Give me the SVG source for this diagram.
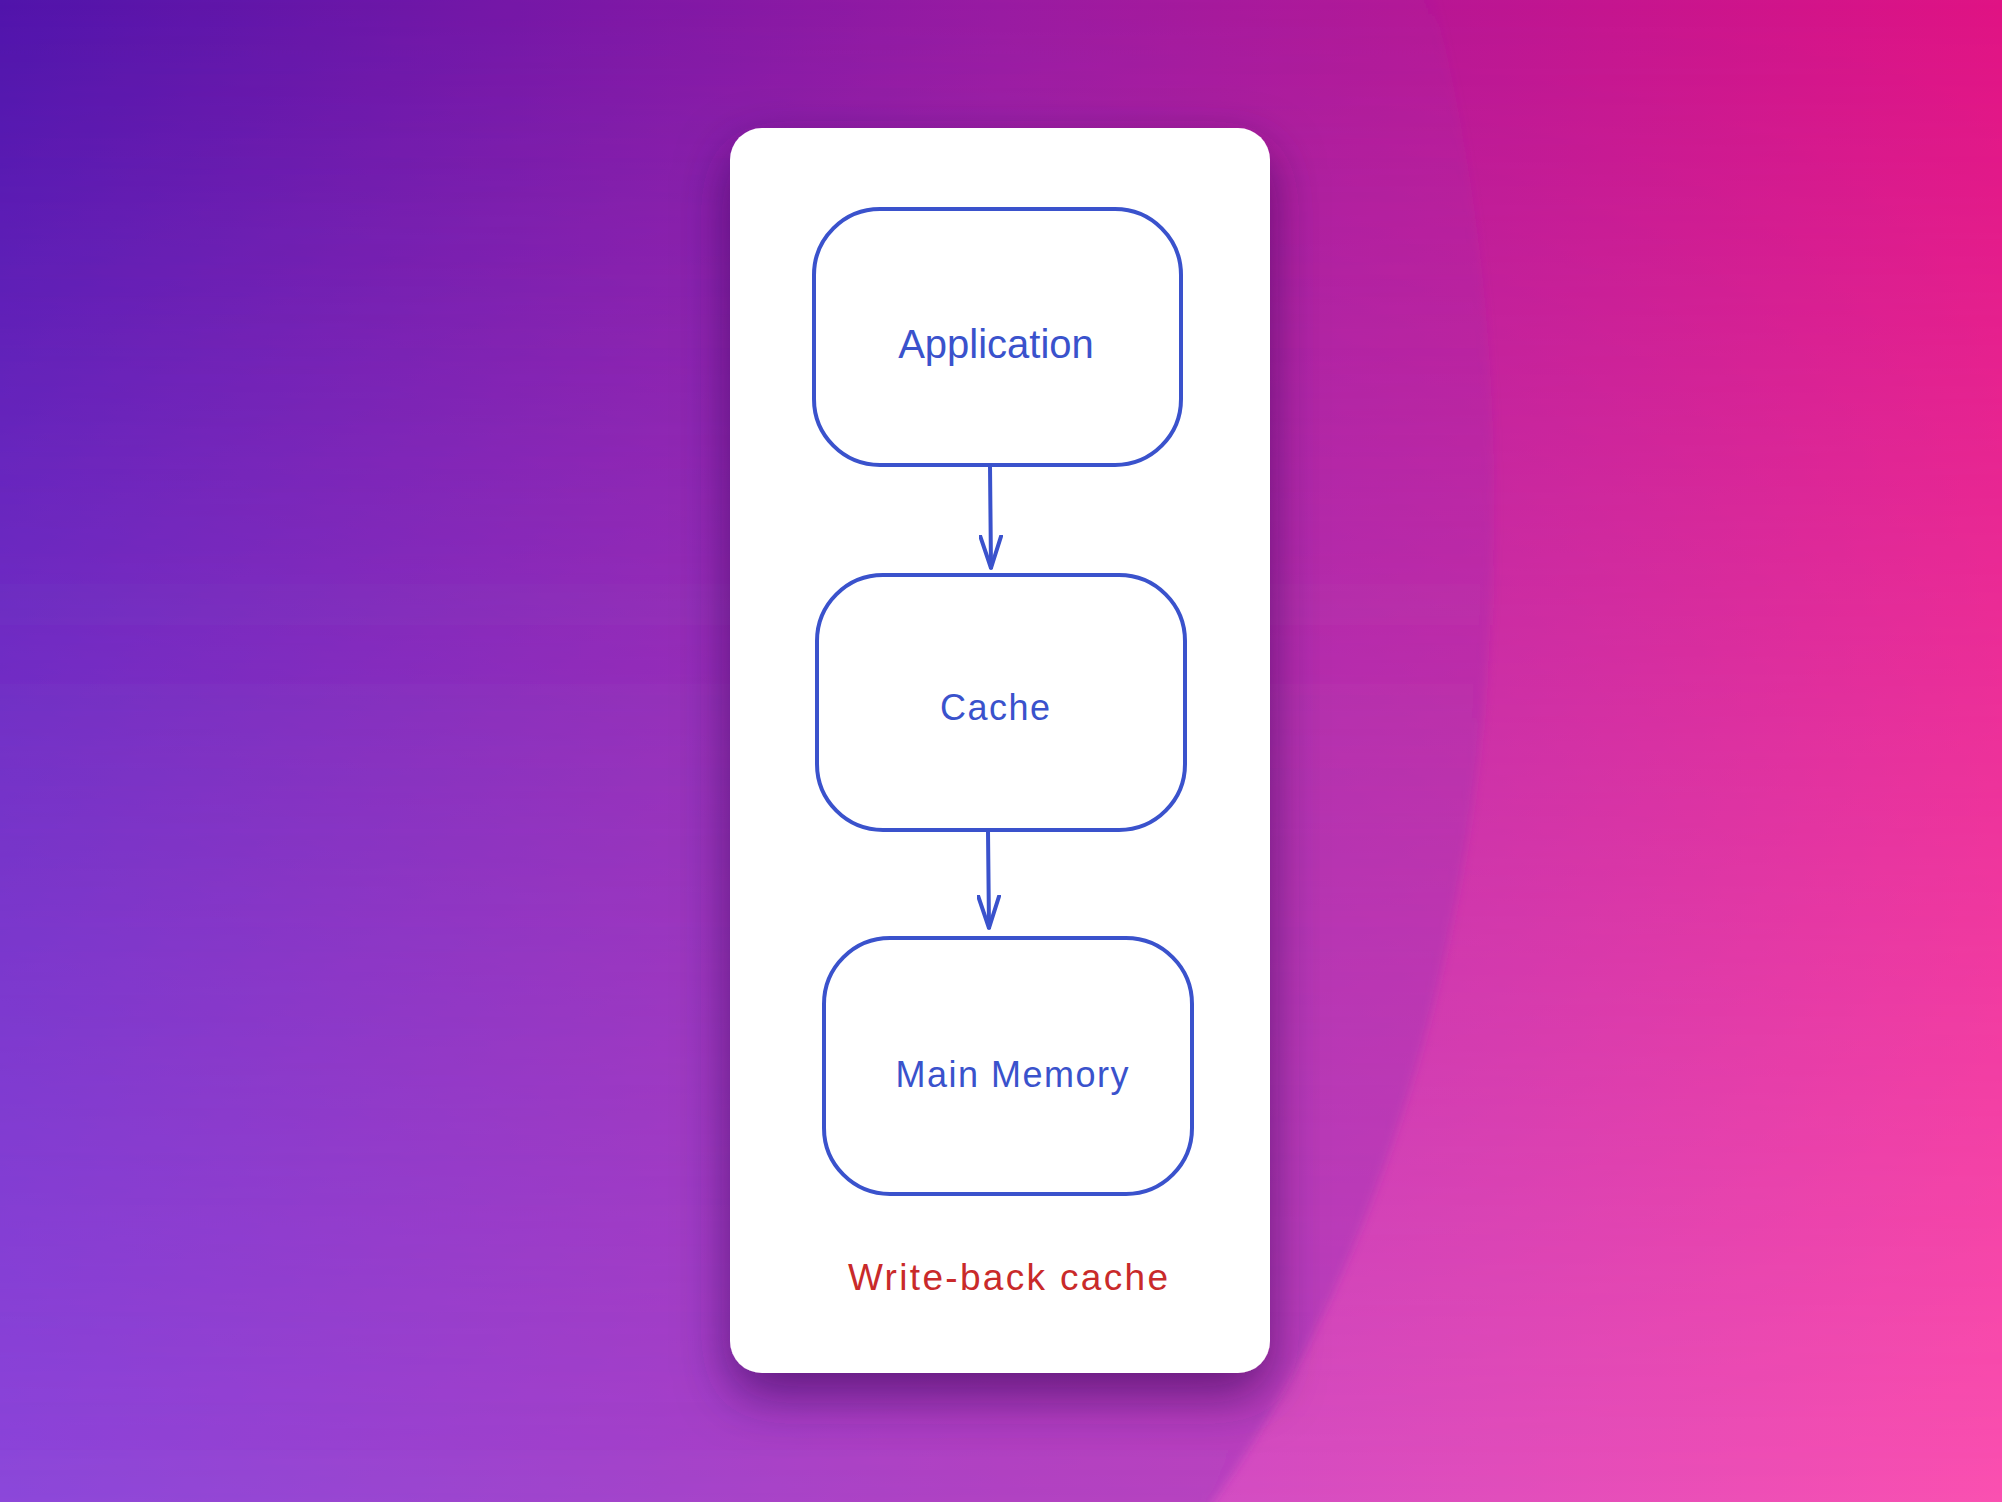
<svg xmlns="http://www.w3.org/2000/svg" width="2002" height="1502" viewBox="0 0 2002 1502">
  <defs>
    <linearGradient id="topRow" x1="0" y1="0" x2="1" y2="0">
      <stop offset="0" stop-color="#4b10aa"/>
      <stop offset="0.5" stop-color="#9a18a0"/>
      <stop offset="1" stop-color="#e01384"/>
    </linearGradient>
    <linearGradient id="botRow" x1="0" y1="0" x2="1" y2="0">
      <stop offset="0" stop-color="#8d55ee"/>
      <stop offset="0.5" stop-color="#c84cc8"/>
      <stop offset="1" stop-color="#fa50b0"/>
    </linearGradient>
    <linearGradient id="vfade" x1="0" y1="0" x2="0" y2="1">
      <stop offset="0" stop-color="#fff" stop-opacity="0"/>
      <stop offset="1" stop-color="#fff" stop-opacity="1"/>
    </linearGradient>
    <mask id="vmask">
      <rect x="0" y="0" width="2002" height="1502" fill="url(#vfade)"/>
    </mask>
    <linearGradient id="blobFade" gradientUnits="userSpaceOnUse" x1="0" y1="0" x2="0" y2="1502">
      <stop offset="0" stop-color="#8a2cb8" stop-opacity="0.08"/>
      <stop offset="0.5" stop-color="#8a2cb8" stop-opacity="0.25"/>
      <stop offset="1" stop-color="#8a2cb8" stop-opacity="0.38"/>
    </linearGradient>
    <filter id="blobBlur" x="-10%" y="-10%" width="120%" height="120%">
      <feGaussianBlur stdDeviation="5"/>
    </filter>
    <filter id="cardShadow" x="-30%" y="-20%" width="160%" height="140%">
      <feDropShadow dx="0" dy="22" stdDeviation="26" flood-color="#2a0650" flood-opacity="0.6"/>
    </filter>
    <marker id="arrowOpen" viewBox="0 0 34 24" refX="33" refY="12" markerWidth="34" markerHeight="24" markerUnits="userSpaceOnUse" orient="auto">
      <path d="M1,1.5 L33,12 L1,22.5" fill="none" stroke="#3a52cc" stroke-width="4" stroke-linecap="round" stroke-linejoin="round"/>
    </marker>
  </defs>
  <style>
    .box { fill: #ffffff; stroke: #3a52cc; stroke-width: 4; }
    .lbl { font-family: "Liberation Sans", Arial, sans-serif; fill: #3a52cc; text-anchor: middle; }
    .cap { font-family: "Liberation Sans", Arial, sans-serif; fill: #c92a2a; text-anchor: middle; }
    .conn { fill: none; stroke: #3a52cc; stroke-width: 4; stroke-linecap: round; }
  </style>

  <g id="background">
    <rect x="0" y="0" width="2002" height="1502" fill="url(#topRow)"/>
    <rect x="0" y="0" width="2002" height="1502" fill="url(#botRow)" mask="url(#vmask)"/>
    <path d="M719,-800 A775,1300 0 0,1 719,1800 L-200,1800 L-200,-800 Z" fill="url(#blobFade)" filter="url(#blobBlur)"/>
  </g>

  <g id="card">
    <rect x="730" y="128" width="540" height="1245" rx="32" ry="32" fill="#ffffff" filter="url(#cardShadow)"/>
  </g>

  <g id="node-application">
    <rect class="box" x="814" y="209" width="367" height="256" rx="66" ry="66"/>
    <text class="lbl" x="996" y="358" font-size="40">Application</text>
  </g>

  <g id="node-cache">
    <rect class="box" x="817" y="575" width="368" height="255" rx="66" ry="66"/>
    <text class="lbl" x="995" y="720" font-size="36" textLength="110" lengthAdjust="spacing">Cache</text>
  </g>

  <g id="node-main-memory">
    <rect class="box" x="824" y="938" width="368" height="256" rx="66" ry="66"/>
    <text class="lbl" x="1012" y="1087" font-size="36" textLength="233" lengthAdjust="spacing">Main Memory</text>
  </g>

  <g id="caption">
    <text class="cap" x="1008" y="1290" font-size="37" textLength="320" lengthAdjust="spacing">Write-back cache</text>
  </g>

  <g id="connectors">
    <path class="conn" d="M990,466 L991,568" marker-end="url(#arrowOpen)"/>
    <path class="conn" d="M988,831 L989,928" marker-end="url(#arrowOpen)"/>
  </g>
</svg>
